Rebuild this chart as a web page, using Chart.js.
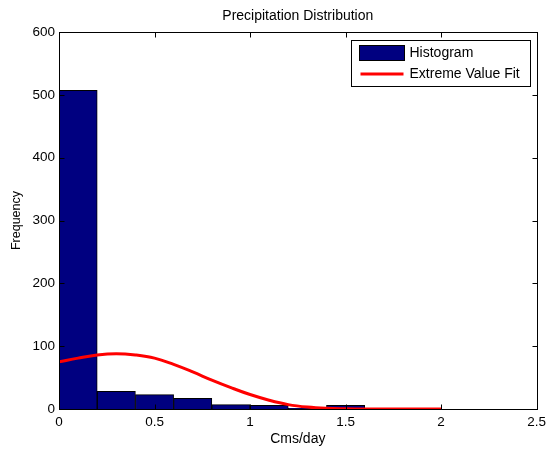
<!DOCTYPE html>
<html>
<head>
<meta charset="utf-8">
<script src="https://cdn.jsdelivr.net/npm/chart.js@4.4.0/dist/chart.umd.min.js"></script>
<style>
  html, body { margin: 0; padding: 0; background: #fff; }
</style>
</head>
<body>
<canvas id="precipChart" width="551" height="454"></canvas>
<script>
// histogram bins (cms/day), each 0.2 wide
const binCenters = [0.1, 0.3, 0.5, 0.7, 0.9, 1.1, 1.3, 1.5, 1.7, 1.9];
const binCounts = [507, 28, 23, 17, 7, 6, 1, 6, 0, 1];

// extreme value fit, scaled to the counts
const fitX = [0, 0.1, 0.2, 0.3, 0.4, 0.5, 0.6, 0.7, 0.8, 0.9, 1.0,
              1.1, 1.2, 1.3, 1.4, 1.5, 1.6, 1.7, 1.8, 1.9, 2.0];
const fitY = [75, 81, 86, 88, 86, 81, 71, 59, 46, 34, 23,
              14, 7, 3, 1, 0.3, 0, 0, 0, 0, 0];

const xTicks = [0, 0.5, 1, 1.5, 2, 2.5];
const yTicks = [0, 100, 200, 300, 400, 500, 600];

const FONT = "'Liberation Sans', Arial, Helvetica, sans-serif";
const NAVY = '#000080';

// box around the axes with inward tick marks on all four sides
const axesBox = {
  id: 'axesBox',
  afterDatasetsDraw(chart) {
    const { ctx, chartArea: a, scales: { x, y } } = chart;
    const L = Math.round(a.left) + 0.5, R = Math.round(a.right) + 0.5;
    const T = Math.round(a.top) + 0.5, B = Math.round(a.bottom) + 0.5;
    ctx.save();
    ctx.strokeStyle = '#000';
    ctx.lineWidth = 1;
    ctx.beginPath();
    xTicks.forEach(v => {
      const px = Math.round(x.getPixelForValue(v)) + 0.5;
      ctx.moveTo(px, B); ctx.lineTo(px, B - 5);
      ctx.moveTo(px, T); ctx.lineTo(px, T + 5);
    });
    yTicks.forEach(v => {
      const py = Math.round(y.getPixelForValue(v)) + 0.5;
      ctx.moveTo(L, py); ctx.lineTo(L + 5, py);
      ctx.moveTo(R, py); ctx.lineTo(R - 5, py);
    });
    ctx.stroke();
    ctx.strokeRect(L, T, R - L, B - T);
    ctx.restore();
  }
};

// legend box in the upper right corner of the axes
const boxLegend = {
  id: 'boxLegend',
  afterDraw(chart) {
    const { ctx, chartArea: a } = chart;
    const ds = chart.data.datasets;
    const w = 179, h = 46;
    const left = Math.round(a.right) - 7 - w + 0.5;
    const top = Math.round(a.top) + 8 + 0.5;
    ctx.save();
    ctx.fillStyle = '#fff';
    ctx.fillRect(left, top, w, h);
    ctx.strokeStyle = '#000';
    ctx.lineWidth = 1;
    ctx.strokeRect(left, top, w, h);

    ctx.font = '14px ' + FONT;
    ctx.textBaseline = 'middle';

    // histogram swatch
    const row1 = top + 12.5;
    ctx.fillStyle = ds[0].backgroundColor;
    ctx.fillRect(left + 8, row1 - 7.5, 45, 15);
    ctx.strokeStyle = '#000';
    ctx.strokeRect(left + 8, row1 - 7.5, 45, 15);
    ctx.fillStyle = '#000';
    ctx.fillText(ds[0].label, left + 58, row1);

    // fit line swatch
    const row2 = top + 33.5;
    ctx.strokeStyle = ds[1].borderColor;
    ctx.lineWidth = 3;
    ctx.beginPath();
    ctx.moveTo(left + 9, row2);
    ctx.lineTo(left + 52, row2);
    ctx.stroke();
    ctx.fillText(ds[1].label, left + 58, row2);
    ctx.restore();
  }
};

new Chart(document.getElementById('precipChart'), {
  type: 'bar',
  data: {
    datasets: [
      {
        type: 'bar',
        label: 'Histogram',
        data: binCenters.map((c, i) => ({ x: c, y: binCounts[i] })),
        backgroundColor: NAVY,
        borderColor: '#000',
        borderWidth: 1,
        barPercentage: 1,
        categoryPercentage: 1,
        order: 2
      },
      {
        type: 'line',
        label: 'Extreme Value Fit',
        data: fitX.map((v, i) => ({ x: v, y: fitY[i] })),
        borderColor: '#ff0000',
        borderWidth: 3,
        pointRadius: 0,
        fill: false,
        tension: 0.4,
        order: 1
      }
    ]
  },
  options: {
    responsive: false,
    animation: false,
    layout: { padding: { left: 0, right: 14, top: 0, bottom: 0 } },
    plugins: {
      legend: { display: false },
      tooltip: { enabled: false },
      title: {
        display: true,
        text: 'Precipitation Distribution',
        fullSize: false,
        color: '#000',
        font: { family: FONT, size: 14, weight: 'normal' },
        padding: { top: 8, bottom: 7.2 }
      }
    },
    scales: {
      x: {
        type: 'linear',
        min: 0,
        max: 2.5,
        offset: false,
        grid: { display: false, drawTicks: false, offset: false },
        border: { display: false },
        afterBuildTicks: s => { s.ticks = xTicks.map(v => ({ value: v })); },
        afterFit: s => { s.height = 45; },
        ticks: {
          color: '#000',
          padding: 5,
          maxRotation: 0,
          font: { family: FONT, size: 13.5 },
          callback: v => String(v)
        },
        title: {
          display: true,
          text: 'Cms/day',
          color: '#000',
          font: { family: FONT, size: 14 },
          padding: { top: 0, bottom: 6 }
        }
      },
      y: {
        min: 0,
        max: 600,
        grid: { display: false, drawTicks: false },
        border: { display: false },
        afterBuildTicks: s => { s.ticks = yTicks.map(v => ({ value: v })); },
        afterFit: s => { s.width = 59; },
        ticks: {
          color: '#000',
          padding: 4,
          font: { family: FONT, size: 13.5 }
        },
        title: {
          display: true,
          text: 'Frequency',
          color: '#000',
          font: { family: FONT, size: 12.5 },
          padding: { top: 9, bottom: 0 }
        }
      }
    }
  },
  plugins: [axesBox, boxLegend]
});
</script>
</body>
</html>
